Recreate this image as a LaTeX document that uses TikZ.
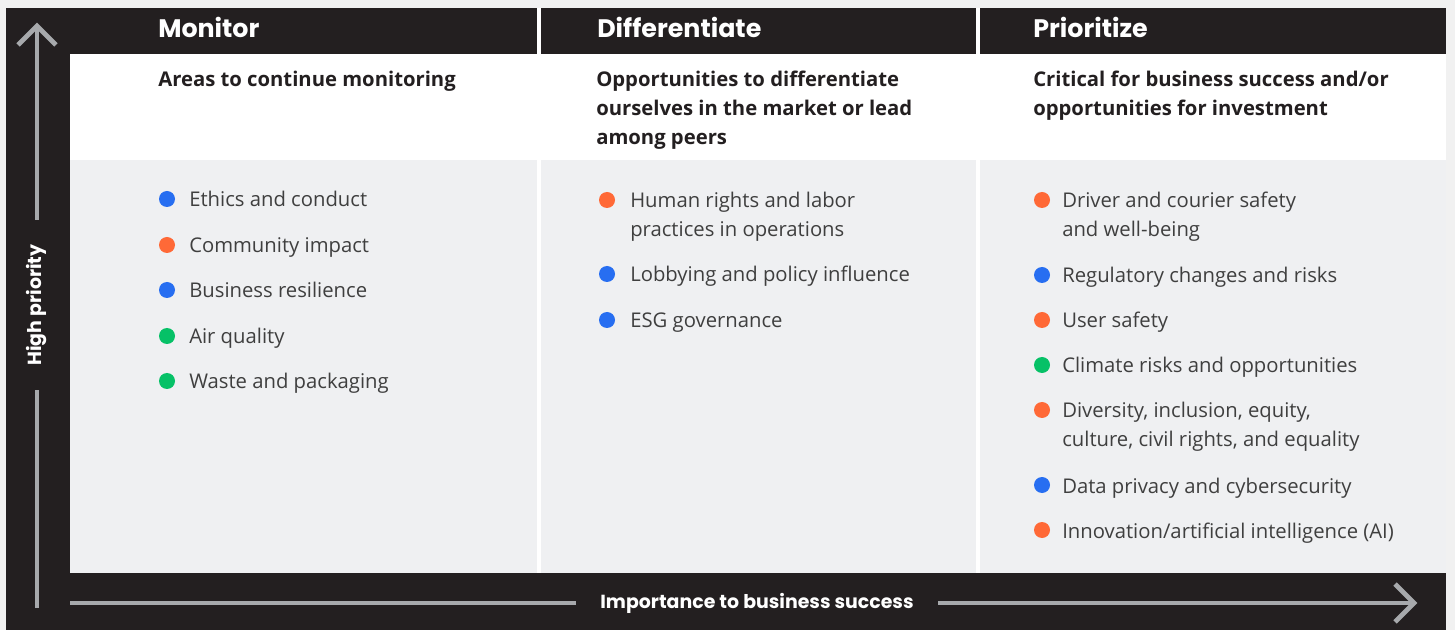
\documentclass[tikz,border=0pt]{standalone}
\usepackage{fontspec}
\setmainfont{Open Sans}
\newfontfamily\headfont{Poppins}
\definecolor{paperc}{HTML}{F1F1F1}
\definecolor{framec}{HTML}{231F20}
\definecolor{panelc}{HTML}{EFF0F2}
\definecolor{axisc}{HTML}{A7A9AC}
\definecolor{itemc}{HTML}{3F3F3F}
\definecolor{bluec}{HTML}{276EF1}
\definecolor{orangec}{HTML}{FF6937}
\definecolor{greenc}{HTML}{06C167}
\newcommand\headsize{\headfont\bfseries\fontsize{19}{24}\selectfont}
\newcommand\axissize{\headfont\bfseries\fontsize{14.2}{18}\selectfont}
\newcommand\subsize{\bfseries\fontsize{15.2}{21.75}\selectfont}
\newcommand\itemsize{\fontsize{15.2}{21.4}\selectfont}
\usetikzlibrary{positioning}
\begin{document}
\begin{tikzpicture}[x=0.75pt, y=-0.75pt,
    colhead/.style={anchor=base west, inner sep=0pt, text=white, font=\headsize},
    subhead/.style={anchor=base west, inner sep=0pt, text=framec, align=left, font=\subsize},
    item/.style={anchor=base west, inner sep=0pt, text=itemc, align=left, font=\itemsize},
    axisline/.style={draw=axisc, line width=3.5pt, miter limit=10},
    axislabel/.style={fill=framec, text=white, font=\axissize, inner ysep=2pt, inner xsep=18pt}]
  \useasboundingbox (0,0) rectangle (1455,630);
  % Draw the frame and the panels
  \fill[paperc] (0,0) rectangle (1455,630);
  \fill[framec] (6,8) rectangle (1446,630);
  \fill[white] (70,54) rectangle (1446,160);
  \fill[panelc] (70,160) rectangle (1446,573);
  \fill[white] (537,8) rectangle (541,573);
  \fill[white] (976,8) rectangle (980,573);
  % Column headers (base of a node = base of its last line)
  \node[colhead] (monitor) at (158,38) {Monitor};
  \node[colhead] (differ) at (597,38) {Differentiate};
  \node[colhead] (prior) at (1033,38) {Prioritize};
  \node[subhead] (monsub) at (158,87) {Areas to continue monitoring};
  \node[subhead] (difsub) at (596,145) {Opportunities to differentiate\\ourselves in the market or lead\\among peers};
  \node[subhead] (prisub) at (1033,116) {Critical for business success and/or\\opportunities for investment};
  % Topics: dot height / lines / colour / text
  \foreach \y/\n/\c/\t [count=\i] in {199/1/bluec/{Ethics and conduct}, 245/1/orangec/{Community impact},
      290/1/bluec/{Business resilience}, 336/1/greenc/{Air quality}, 381/1/greenc/{Waste and packaging}}{
    \fill[\c] (167,\y) circle (6pt);
    \node[item] (mon\i) at (189,\y+8+28.5*\n-28.5) {\t};
  }
  \foreach \y/\n/\c/\t [count=\i] in {200/2/orangec/{Human rights and labor\\practices in operations},
      274/1/bluec/{Lobbying and policy influence}, 320/1/bluec/{ESG governance}}{
    \fill[\c] (607,\y) circle (6pt);
    \node[item] (dif\i) at (630,\y+8+28.5*\n-28.5) {\t};
  }
  \foreach \y/\n/\c/\t [count=\i] in {200/2/orangec/{Driver and courier safety\\and well-being},
      275/1/bluec/{Regulatory changes and risks}, 320/1/orangec/{User safety},
      365/1/greenc/{Climate risks and opportunities},
      410/2/orangec/{Diversity, inclusion, equity,\\culture, civil rights, and equality},
      485/1/bluec/{Data privacy and cybersecurity}, 530/1/orangec/{Innovation/artificial intelligence (AI)}}{
    \fill[\c] (1042,\y) circle (6pt);
    \node[item] (pri\i) at (1062,\y+8+28.5*\n-28.5) {\t};
  }
  % Draw the axes
  \coordinate (ybot) at (37,608);
  \coordinate (ytip) at (37,26);
  \coordinate (xstart) at (70,603);
  \coordinate (xtip) at (1414,603);
  \draw[axisline] (ybot) -- (ytip);
  \draw[axisline] (ytip) ++(-19,19) -- (ytip) -- ++(19,19);
  \draw[axisline] (xstart) -- (xtip);
  \draw[axisline] (xtip) ++(-19,-19) -- (xtip) -- ++(-19,19);
  \node[axislabel, rotate=90] (ylab) at (37,305) {High priority};
  \node[axislabel] (xlab) at (757,603) {Importance to business success};
\end{tikzpicture}
\end{document}
